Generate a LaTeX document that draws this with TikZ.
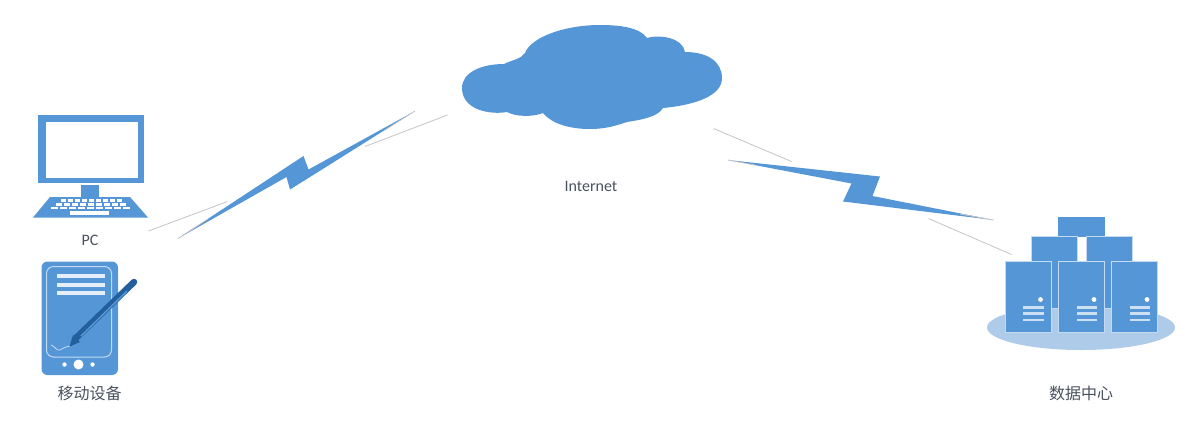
\documentclass[tikz,border=0pt]{standalone}
\usepackage{fontspec}
\setmainfont{Carlito}
\newfontfamily\cjk{Noto Sans CJK SC}
\definecolor{iconblue}{HTML}{5596D6}
\definecolor{pendark}{HTML}{235F9C}
\definecolor{diskblue}{HTML}{AECBEA}
\definecolor{textgray}{HTML}{4A5260}
\definecolor{linegray}{HTML}{C4C4C4}
\tikzset{
    labeltext/.style={text=textgray, inner sep=0pt, font=\fontsize{16}{18}\selectfont},
    cjktext/.style={text=textgray, inner sep=0pt, font=\fontsize{16}{18}\selectfont\cjk},
    thinline/.style={draw=linegray, line width=0.8pt},
    softline/.style={draw=white!65!iconblue, line width=0.8pt},
}
\begin{document}
\begin{tikzpicture}[x=1pt, y=-1pt]
    % Khung ảnh
    \useasboundingbox (0, 0) rectangle (1188, 432);

    % 1. Đám mây Internet
    \fill[iconblue] (462, 88) .. controls (462, 72) and (482, 64) .. (504, 64)
        .. controls (512, 60) and (521, 59) .. (525, 53)
        .. controls (531, 37) and (565, 25) .. (600, 25)
        .. controls (622, 25) and (640, 28) .. (647, 38)
        .. controls (660, 34) and (683, 38) .. (685, 52)
        .. controls (708, 52) and (722, 62) .. (722, 78)
        .. controls (722, 96) and (695, 105) .. (663, 108)
        .. controls (658, 117) and (640, 120) .. (627, 122)
        .. controls (615, 126) and (605, 129) .. (590, 129)
        .. controls (570, 129) and (552, 124) .. (543, 113)
        .. controls (533, 117) and (516, 117) .. (507, 112)
        .. controls (490, 115) and (462, 110) .. (462, 88) -- cycle;
    \node[labeltext] (internet) at (591, 186.5) {Internet};

    % 2. Máy tính
    \fill[iconblue] (38, 115) rectangle (143.5, 183);
    \fill[white] (46, 121.5) rectangle (138, 178);
    \fill[iconblue] (81, 185) rectangle (99, 197);
    \fill[iconblue] (50, 197) -- (130, 197) -- (148, 217.5) -- (33, 217.5) -- cycle;
    % các phím
    \foreach \row/\left/\right in {199/60/123, 203/55/127, 206.5/50/131} {
        \foreach \k in {0,...,8} {
            \fill[white] ({\left + \k*(\right - \left)/9 + 1}, \row)
                rectangle ({\left + (\k + 1)*(\right - \left)/9 - 1}, \row + 2.8);
        }
    }
    \fill[white] (70, 210.5) rectangle (109, 214.5);
    \node[labeltext] (pc) at (90, 240) {PC};

    % 3. Thiết bị di động
    \fill[iconblue, rounded corners=6pt] (41.5, 261.5) rectangle (118, 375);
    \draw[white!65!iconblue, line width=1pt, rounded corners=7pt] (46.5, 266.5) rectangle (111.5, 357);
    \foreach \row in {276, 285, 293} {
        \fill[white!85!iconblue] (56.5, \row - 2) rectangle (105, \row + 2);
    }
    \fill[white] (78.5, 364.5) circle (5);
    \fill[white] (64.5, 364.5) circle (2.2);
    \fill[white] (92.5, 364.5) circle (2.2);
    \draw[softline] (51, 345) .. controls (55, 346) and (56, 351) .. (60, 350)
        .. controls (63, 348) and (65, 347) .. (70, 346);
    % cây bút
    \draw[pendark, line width=6.5pt, line cap=round] (76, 338) -- (134, 282);
    \fill[pendark] (69.5, 346.5) -- (73, 335) -- (80, 342) -- cycle;
    \draw[iconblue, line width=1.5pt] (81, 336) -- (127, 291);
    \node[cjktext] (mobile) at (89.5, 393.5) {移动设备};

    % 4. Trung tâm dữ liệu
    \fill[diskblue] (1081, 327.5) ellipse (94 and 22.5);
    \fill[iconblue] (1057.5, 216.5) rectangle (1105, 236.5);
    \foreach \x in {1031, 1086} {
        \fill[iconblue] (\x, 236.5) rectangle (\x + 46.5, 308);
        \draw[softline] (\x, 236.5) rectangle (\x + 46.5, 308);
    }
    \foreach \x in {1005, 1058.5, 1111.5} {
        \fill[iconblue] (\x, 261) rectangle (\x + 46, 332);
        \draw[softline] (\x, 261) rectangle (\x + 46, 332);
        \fill[white] (\x + 35.5, 299.5) circle (2.4);
        \foreach \row in {307.5, 313.5, 320} {
            \fill[white!70!iconblue] (\x + 18, \row - 1.3) rectangle (\x + 38.5, \row + 1.3);
        }
    }
    \node[cjktext] (center) at (1081, 393.5) {数据中心};

    % 5. Tia sét bên trái
    \fill[iconblue] (178, 238.5) -- (303.5, 156) -- (308.5, 169.5) -- (415, 111)
        -- (326, 167) -- (290, 189.5) -- (286.5, 177) -- cycle;
    \draw[linegray, line width=0.8pt] (178, 238.5) -- (208, 219);
    \draw[linegray, line width=0.8pt] (415, 111) -- (385, 130);

    % 6. Tia sét bên phải
    \fill[iconblue] (728, 160) -- (880, 176.5) -- (872.5, 196) -- (993.5, 220)
        -- (843, 201.5) -- (851.5, 183.5) -- cycle;
    \draw[linegray, line width=0.8pt] (728, 160) -- (755, 165);
    \draw[linegray, line width=0.8pt] (993.5, 220) -- (960, 214);

    % 7. Các đoạn thẳng mảnh
    \coordinate (leftA) at (148.5, 231);
    \coordinate (leftB) at (227.5, 201.5);
    \coordinate (leftC) at (365, 146.5);
    \coordinate (leftD) at (447.5, 115);
    \coordinate (rightA) at (713.5, 128.5);
    \coordinate (rightB) at (791.5, 161.5);
    \coordinate (rightC) at (928.5, 218.5);
    \coordinate (rightD) at (1011.5, 254.5);
    \draw[thinline] (leftA) -- (leftB);
    \draw[thinline] (leftC) -- (leftD);
    \draw[thinline] (rightA) -- (rightB);
    \draw[thinline] (rightC) -- (rightD);
\end{tikzpicture}
\end{document}
